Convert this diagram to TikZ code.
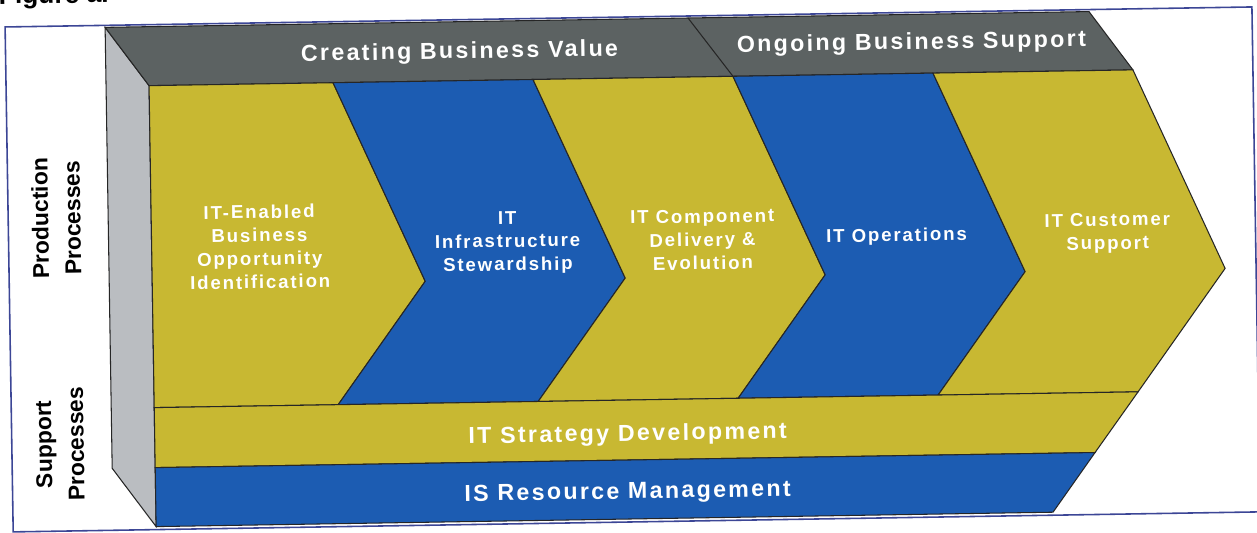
\documentclass[tikz,border=0pt]{standalone}
\usepackage{fontspec}
\setmainfont{Liberation Sans}
\newfontfamily\bandfont[LetterSpace=10]{Liberation Sans}

\definecolor{chevyellow}{RGB}{200,184,50}
\definecolor{chevblue}{RGB}{28,92,178}
\definecolor{topgray}{RGB}{92,98,98}
\definecolor{sidegray}{RGB}{186,189,193}
\definecolor{frameblue}{RGB}{60,70,150}

\begin{document}
\begin{tikzpicture}[x=0.02cm, y=-0.02cm,
    edge/.style={draw=black!85, line width=0.6pt},
    bandtext/.style={font=\bandfont\bfseries\fontsize{13.2}{16}\selectfont, text=white},
    chevtext/.style={font=\bandfont\bfseries\fontsize{10.6}{13.3}\selectfont, text=white, align=center},
    sidetext/.style={font=\bfseries\fontsize{13}{18.3}\selectfont, text=black, align=center, rotate=90}]

    % Page area
    \useasboundingbox (0,0) rectangle (1257,533);
    \clip (0,0) rectangle (1257,533);

    % The scanned figure sits slightly tilted
    \begin{scope}[rotate around={0.92:(628,266)}, transform shape]

    % Caption above the frame
    \node[anchor=base west, text=black, font=\bfseries\fontsize{15}{18}\selectfont] (caption) at (-3,-6) {Figure a.};

    % Outer frame
    \fill[white] (9,17) rectangle (1256,522);
    \draw[frameblue, line width=0.9pt] (9,17) rectangle (1256,522);

    % Side face of the block
    \filldraw[edge, fill=sidegray] (109,19) -- (152,78) -- (152,519) -- (109,460) -- cycle;

    % Top face, split in two phases
    \filldraw[edge, fill=topgray] (109,19) -- (1093,19) -- (1136,78) -- (152,78) -- cycle;
    \draw[edge] (692,19) -- (736,78);

    % Production process chevrons
    \filldraw[edge, fill=chevyellow] (152,78) -- (336,78) -- (425,278) -- (336,400) -- (152,400) -- cycle;
    \foreach \t/\col in {536/chevblue, 736/chevyellow, 936/chevblue, 1136/chevyellow} {
        \filldraw[edge, fill=\col] (\t-200,78) -- (\t,78) -- (\t+89,278) -- (\t,400)
            -- (\t-200,400) -- (\t-111,278) -- cycle;
    }

    % Support process bands
    \filldraw[edge, fill=chevyellow] (152,400) -- (1136,400) -- (1092,460) -- (152,460) -- cycle;
    \filldraw[edge, fill=chevblue] (152,460) -- (1092,460) -- (1049,519) -- (152,519) -- cycle;

    % Phase labels
    \node[bandtext] (value) at (463,50) {Creating Business Value};
    \node[bandtext] (ongoing) at (915,48) {Ongoing Business Support};

    % Chevron labels
    \node[chevtext] (opportunity) at (260,241) {IT-Enabled\\Business\\Opportunity\\Identification};
    \node[chevtext] (infra) at (508,241) {IT\\Infrastructure\\Stewardship};
    \node[chevtext] (delivery) at (703,241) {IT Component\\Delivery \&\\Evolution};
    \node[chevtext] (operations) at (897,241) {IT Operations};
    \node[chevtext] (customer) at (1108,241) {IT Customer\\Support};

    % Band labels
    \node[bandtext] (strategy) at (625,435) {IT Strategy Development};
    \node[bandtext] (resource) at (624,493) {IS Resource Management};

    % Row labels
    \node[sidetext] (production) at (57,209) {Production\\Processes};
    \node[sidetext] (supportproc) at (57,435) {Support\\Processes};

    \end{scope}
\end{tikzpicture}
\end{document}
